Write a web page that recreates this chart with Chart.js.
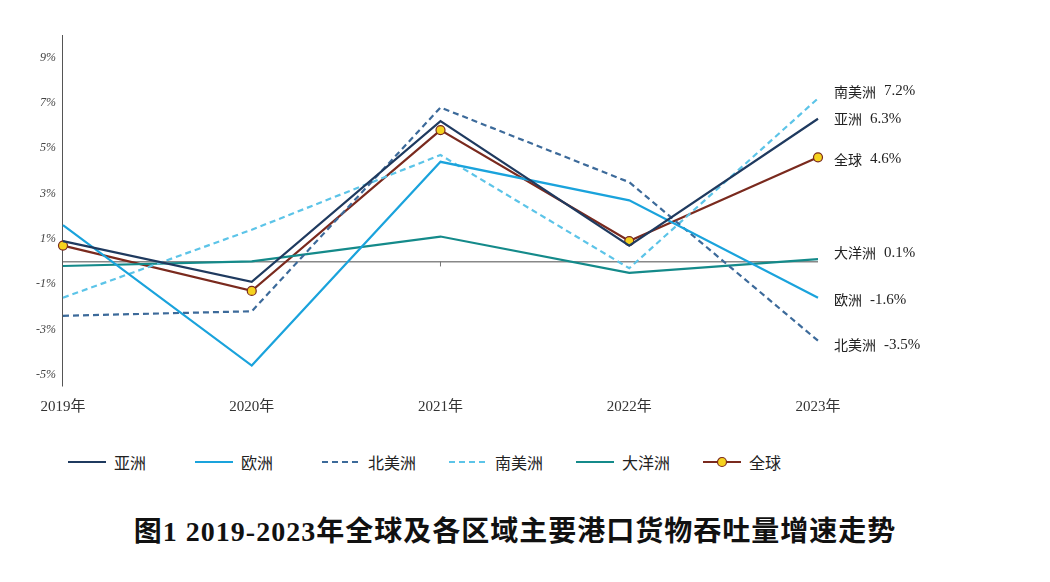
<!DOCTYPE html>
<html>
<head>
<meta charset="utf-8">
<script src="https://cdn.jsdelivr.net/npm/chart.js@4"></script>
<style>
  body { margin: 0; background: #fff; width: 1050px; height: 582px; overflow: hidden; font-family: "Liberation Serif", "Noto Sans CJK SC", serif; }
  #wrap { position: relative; width: 1050px; height: 430px; }
  #legend { position: absolute; top: 450px; left: 68px; display: flex; font-size: 16px; color: #222; }
  #legend .item { display: flex; align-items: center; width: 127px; }
  #legend svg { margin-right: 8px; }
  #title { position: absolute; top: 509px; left: 0; width: 1030px; text-align: center; font-size: 28px; font-weight: bold; color: #111; letter-spacing: 1px; font-family: "Liberation Serif", "Noto Sans CJK SC", serif; }
</style>
</head>
<body>
<div id="wrap"><canvas id="c" width="1050" height="430"></canvas></div>
<div id="legend"></div>
<div id="title">图1 2019-2023年全球及各区域主要港口货物吞吐量增速走势</div>
<script>
const years = ['2019年', '2020年', '2021年', '2022年', '2023年'];
const asia = [0.9, -0.9, 6.2, 0.7, 6.3];
const europe = [1.6, -4.6, 4.4, 2.7, -1.6];
const northAmerica = [-2.4, -2.2, 6.8, 3.5, -3.5];
const southAmerica = [-1.6, 1.4, 4.7, -0.3, 7.2];
const oceania = [-0.2, 0.0, 1.1, -0.5, 0.1];
const world = [0.7, -1.3, 5.8, 0.9, 4.6];
const yTicks = [-5, -3, -1, 1, 3, 5, 7, 9];

const series = [
  { label: '亚洲', data: asia, color: '#1f3a5f', dash: [], offset: 0 },
  { label: '欧洲', data: europe, color: '#1aa3dc', dash: [], offset: 2 },
  { label: '北美洲', data: northAmerica, color: '#3c6a9a', dash: [6, 4], offset: 4 },
  { label: '南美洲', data: southAmerica, color: '#5cc4e8', dash: [6, 4], offset: -7 },
  { label: '大洋洲', data: oceania, color: '#148a8a', dash: [], offset: -6 },
  { label: '全球', data: world, color: '#7a2a1e', dash: [], offset: 2, marker: true }
];

const endLabels = {
  id: 'endLabels',
  afterDatasetsDraw(chart) {
    const ctx = chart.ctx;
    ctx.save();
    ctx.textBaseline = 'middle';
    chart.data.datasets.forEach((ds, i) => {
      const meta = chart.getDatasetMeta(i);
      const p = meta.data[meta.data.length - 1];
      const v = ds.data[ds.data.length - 1];
      const s = series[i];
      ctx.fillStyle = '#222';
      ctx.font = '14px "Noto Sans CJK SC"';
      ctx.fillText(s.label, p.x + 16, p.y + s.offset);
      const w = ctx.measureText(s.label).width;
      ctx.font = '15px "Liberation Serif"';
      ctx.fillText(v.toFixed(1) + '%', p.x + 24 + w, p.y + s.offset);
    });
    ctx.restore();
  }
};

const zeroTick = {
  id: 'zeroTick',
  afterDatasetsDraw(chart) {
    const x = chart.scales.x.getPixelForValue(2);
    const y = chart.scales.y.getPixelForValue(0);
    const ctx = chart.ctx;
    ctx.save();
    ctx.strokeStyle = '#777';
    ctx.lineWidth = 1;
    ctx.beginPath();
    ctx.moveTo(x, y);
    ctx.lineTo(x, y + 5);
    ctx.stroke();
    ctx.restore();
  }
};

new Chart(document.getElementById('c'), {
  type: 'line',
  data: {
    labels: years,
    datasets: series.map(s => ({
      label: s.label,
      data: s.data,
      borderColor: s.color,
      backgroundColor: s.marker ? '#f5d21e' : s.color,
      borderWidth: 2.2,
      borderDash: s.dash,
      tension: 0,
      pointRadius: s.marker ? 4.5 : 0,
      pointBorderColor: s.color,
      pointBorderWidth: 1.2
    }))
  },
  options: {
    responsive: false,
    animation: false,
    layout: { padding: { left: 33, right: 232, top: 35, bottom: 10 } },
    plugins: { legend: { display: false }, tooltip: { enabled: false } },
    scales: {
      x: {
        offset: false,
        grid: { display: false },
        border: { display: false },
        ticks: { color: '#333', font: { family: 'Liberation Serif, Noto Sans CJK SC', size: 15 }, padding: 4 }
      },
      y: {
        min: -5.5, max: 10,
        afterBuildTicks: axis => { axis.ticks = [0].concat(yTicks).map(v => ({ value: v })); },
        grid: {
          drawOnChartArea: true,
          color: c => c.tick.value === 0 ? '#888' : 'rgba(0,0,0,0)',
          lineWidth: c => c.tick.value === 0 ? 1.5 : 0,
          tickColor: c => c.tick.value === 0 ? 'rgba(0,0,0,0)' : '#666',
          tickLength: 4
        },
        border: { display: true, color: '#555' },
        ticks: {
          color: '#444',
          font: { family: 'Liberation Serif', size: 12, style: 'italic' },
          callback: v => v === 0 ? '' : v + '%'
        }
      }
    }
  },
  plugins: [endLabels, zeroTick]
});

const legend = document.getElementById('legend');
series.forEach(s => {
  const d = document.createElement('div');
  d.className = 'item';
  const dash = s.dash.length ? 'stroke-dasharray="6,4"' : '';
  const dot = s.marker ? `<circle cx="19" cy="6" r="4.5" fill="#f5d21e" stroke="${s.color}" stroke-width="1.2"/>` : '';
  d.innerHTML = `<svg width="38" height="12"><line x1="0" y1="6" x2="38" y2="6" stroke="${s.color}" stroke-width="2.2" ${dash}/>${dot}</svg><span>${s.label}</span>`;
  legend.appendChild(d);
});
</script>
</body>
</html>
